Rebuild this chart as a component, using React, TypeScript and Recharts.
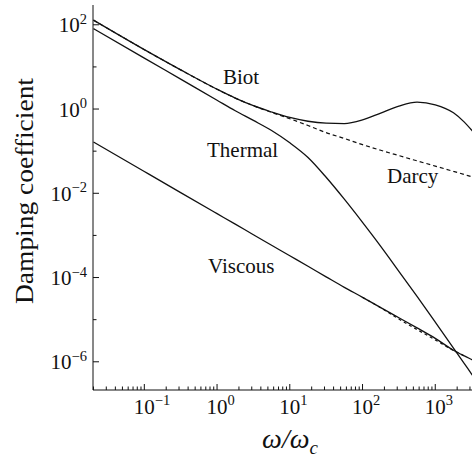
import { LineChart, Line, XAxis, YAxis } from "recharts";

// frequency grid, ω/ω_c
const omega = [
  0.02, 0.1, 0.316, 1, 1.78, 3.16, 5.62, 10, 17.8, 31.6, 56.2, 100, 178, 316,
  562, 1000, 1780, 2510, 3160, 3980,
];

// damping coefficients on the grid above
const biot = [
  129, 25.7, 8.51, 2.95, 1.82, 1.2, 0.851, 0.631, 0.513, 0.462, 0.452, 0.55,
  0.804, 1.175, 1.462, 1.259, 0.813, 0.49, 0.316, 0.2,
];
const darcy = [
  129, 25.7, 8.51, 2.95, 1.82, 1.2, 0.832, 0.589, 0.407, 0.275, 0.2, 0.143,
  0.105, 0.0785, 0.0589, 0.0442, 0.0331, 0.0279, 0.0248, 0.0221,
];
const thermal = [
  81.3, 16.2, 5.13, 1.62, 0.912, 0.537, 0.309, 0.158, 0.0708, 0.024, 0.00724,
  0.00204, 5.5e-4, 1.41e-4, 3.55e-5, 8.71e-6, 2.11e-6, 9.02e-7, 5.13e-7, 2.88e-7,
];
const viscous = [
  0.165, 0.0329, 0.0104, 0.00329, 1.85e-3, 1.04e-3, 5.85e-4, 3.29e-4, 1.85e-4,
  1.04e-4, 5.85e-5, 3.39e-5, 1.93e-5, 1.11e-5, 6.38e-6, 3.59e-6, 1.88e-6,
  1.38e-6, 1.135e-6, 9.33e-7,
];
const viscousLow = [
  null, null, null, null, null, null, null, null, null, null, null, 3.39e-5,
  1.91e-5, 1.035e-5, 5.82e-6, 3.31e-6, 1.86e-6, 1.38e-6, null, null,
];

// axis ticks
const xDecades = [-2, -1, 0, 1, 2, 3];
const xLabelled = [-1, 0, 1, 2, 3];
const yTicks = [1e-6, 1e-5, 1e-4, 1e-3, 1e-2, 1e-1, 1, 10, 100];
const yLabelled = [-6, -4, -2, 0, 2];

const X_DOMAIN: [number, number] = [0.0197, 10000];
const Y_DOMAIN: [number, number] = [2.14e-7, 295];

const xTicks: number[] = [];
xDecades.forEach((d) => {
  for (let m = 1; m <= 9; m++) {
    const v = m * Math.pow(10, d);
    if (v >= X_DOMAIN[0] && v <= X_DOMAIN[1]) xTicks.push(v);
  }
});

const rows = omega.map((w, i) => ({
  w,
  biot: biot[i],
  darcy: darcy[i],
  thermal: thermal[i],
  viscous: viscous[i],
  viscousLow: viscousLow[i],
}));

const FONT = '"Liberation Serif", "Times New Roman", serif';
const INK = "#111";

const expOf = (v: number) => Math.round(Math.log10(v));
const isDecade = (v: number) => Math.abs(Math.log10(v) - expOf(v)) < 1e-9;
const supText = (n: number) => (n < 0 ? `\u2212${-n}` : `${n}`);

function BottomTick(props: any) {
  const { x, y, payload } = props;
  const v = payload.value;
  const major = isDecade(v);
  const e = expOf(v);
  return (
    <g>
      <line x1={x} x2={x} y1={y} y2={y - (major ? 6 : 3.5)} stroke={INK} strokeWidth={1} />
      {major && xLabelled.includes(e) && (
        <text x={x - 10.5} y={y + 23.5} fontSize={21} fontFamily={FONT} fill={INK} textAnchor="start">
          10
          <tspan dy={-8.5} fontSize={14.5}>
            {supText(e)}
          </tspan>
        </text>
      )}
    </g>
  );
}

function TopTick(props: any) {
  const { x, y, payload } = props;
  const major = isDecade(payload.value);
  return <line x1={x} x2={x} y1={y} y2={y + (major ? 6 : 3.5)} stroke={INK} strokeWidth={1} />;
}

function LeftTick(props: any) {
  const { x, y, payload } = props;
  const e = expOf(payload.value);
  const major = yLabelled.includes(e);
  return (
    <g>
      <line x1={x} x2={x + (major ? 6 : 3.5)} y1={y} y2={y} stroke={INK} strokeWidth={1} />
      {major && (
        <text x={x - 6} y={y + 7.5} fontSize={21} fontFamily={FONT} fill={INK} textAnchor="end">
          10
          <tspan dy={-8.5} fontSize={14.5}>
            {supText(e)}
          </tspan>
        </text>
      )}
    </g>
  );
}

export default function App() {
  return (
    <div
      style={{
        position: "fixed",
        left: 0,
        top: 0,
        width: 472,
        height: 459,
        overflow: "hidden",
        background: "#fff",
      }}
    >
      <LineChart width={520} height={459} data={rows} margin={{ top: 5, right: 12, bottom: 0, left: 0 }}>
        <XAxis
          dataKey="w"
          type="number"
          scale="log"
          domain={X_DOMAIN}
          allowDataOverflow
          ticks={xTicks}
          interval={0}
          height={69}
          tickSize={0}
          tickMargin={0}
          tickLine={false}
          axisLine={{ stroke: INK }}
          tick={<BottomTick />}
        />
        <XAxis
          xAxisId="top"
          dataKey="w"
          orientation="top"
          type="number"
          scale="log"
          domain={X_DOMAIN}
          allowDataOverflow
          ticks={xTicks}
          interval={0}
          height={0}
          tickSize={0}
          tickMargin={0}
          tickLine={false}
          axisLine={{ stroke: INK }}
          tick={<TopTick />}
        />
        <YAxis
          type="number"
          scale="log"
          domain={Y_DOMAIN}
          allowDataOverflow
          ticks={yTicks}
          interval={0}
          width={93}
          tickSize={0}
          tickMargin={0}
          tickLine={false}
          axisLine={{ stroke: INK }}
          tick={<LeftTick />}
        />
        <Line dataKey="biot" type="monotone" stroke={INK} strokeWidth={1.3} dot={false} activeDot={false} isAnimationActive={false} />
        <Line dataKey="thermal" type="monotone" stroke={INK} strokeWidth={1.3} dot={false} activeDot={false} isAnimationActive={false} />
        <Line dataKey="viscous" type="monotone" stroke={INK} strokeWidth={1.3} dot={false} activeDot={false} isAnimationActive={false} />
        <Line dataKey="darcy" type="monotone" stroke={INK} strokeWidth={1.2} strokeDasharray="4 3" dot={false} activeDot={false} isAnimationActive={false} />
        <Line dataKey="viscousLow" type="monotone" stroke={INK} strokeWidth={1.2} strokeDasharray="3 3" dot={false} activeDot={false} isAnimationActive={false} />
      </LineChart>
      <svg
        width={472}
        height={459}
        style={{ position: "absolute", left: 0, top: 0, pointerEvents: "none" }}
        fontFamily={FONT}
        fill={INK}
      >
        <text x={223} y={84} fontSize={21}>Biot</text>
        <text x={207} y={157} fontSize={21}>Thermal</text>
        <text x={387} y={183} fontSize={21}>Darcy</text>
        <text x={208} y={273} fontSize={21}>Viscous</text>
        <text
          transform="translate(33,191) rotate(-90)"
          fontSize={26}
          textAnchor="middle"
          textLength={226}
          lengthAdjust="spacingAndGlyphs"
        >
          Damping coefficient
        </text>
        <text x={290} y={448} fontSize={28} fontStyle="italic" textAnchor="middle">
          ω/ω
          <tspan dy={6} fontSize={19}>
            c
          </tspan>
        </text>
      </svg>
    </div>
  );
}
